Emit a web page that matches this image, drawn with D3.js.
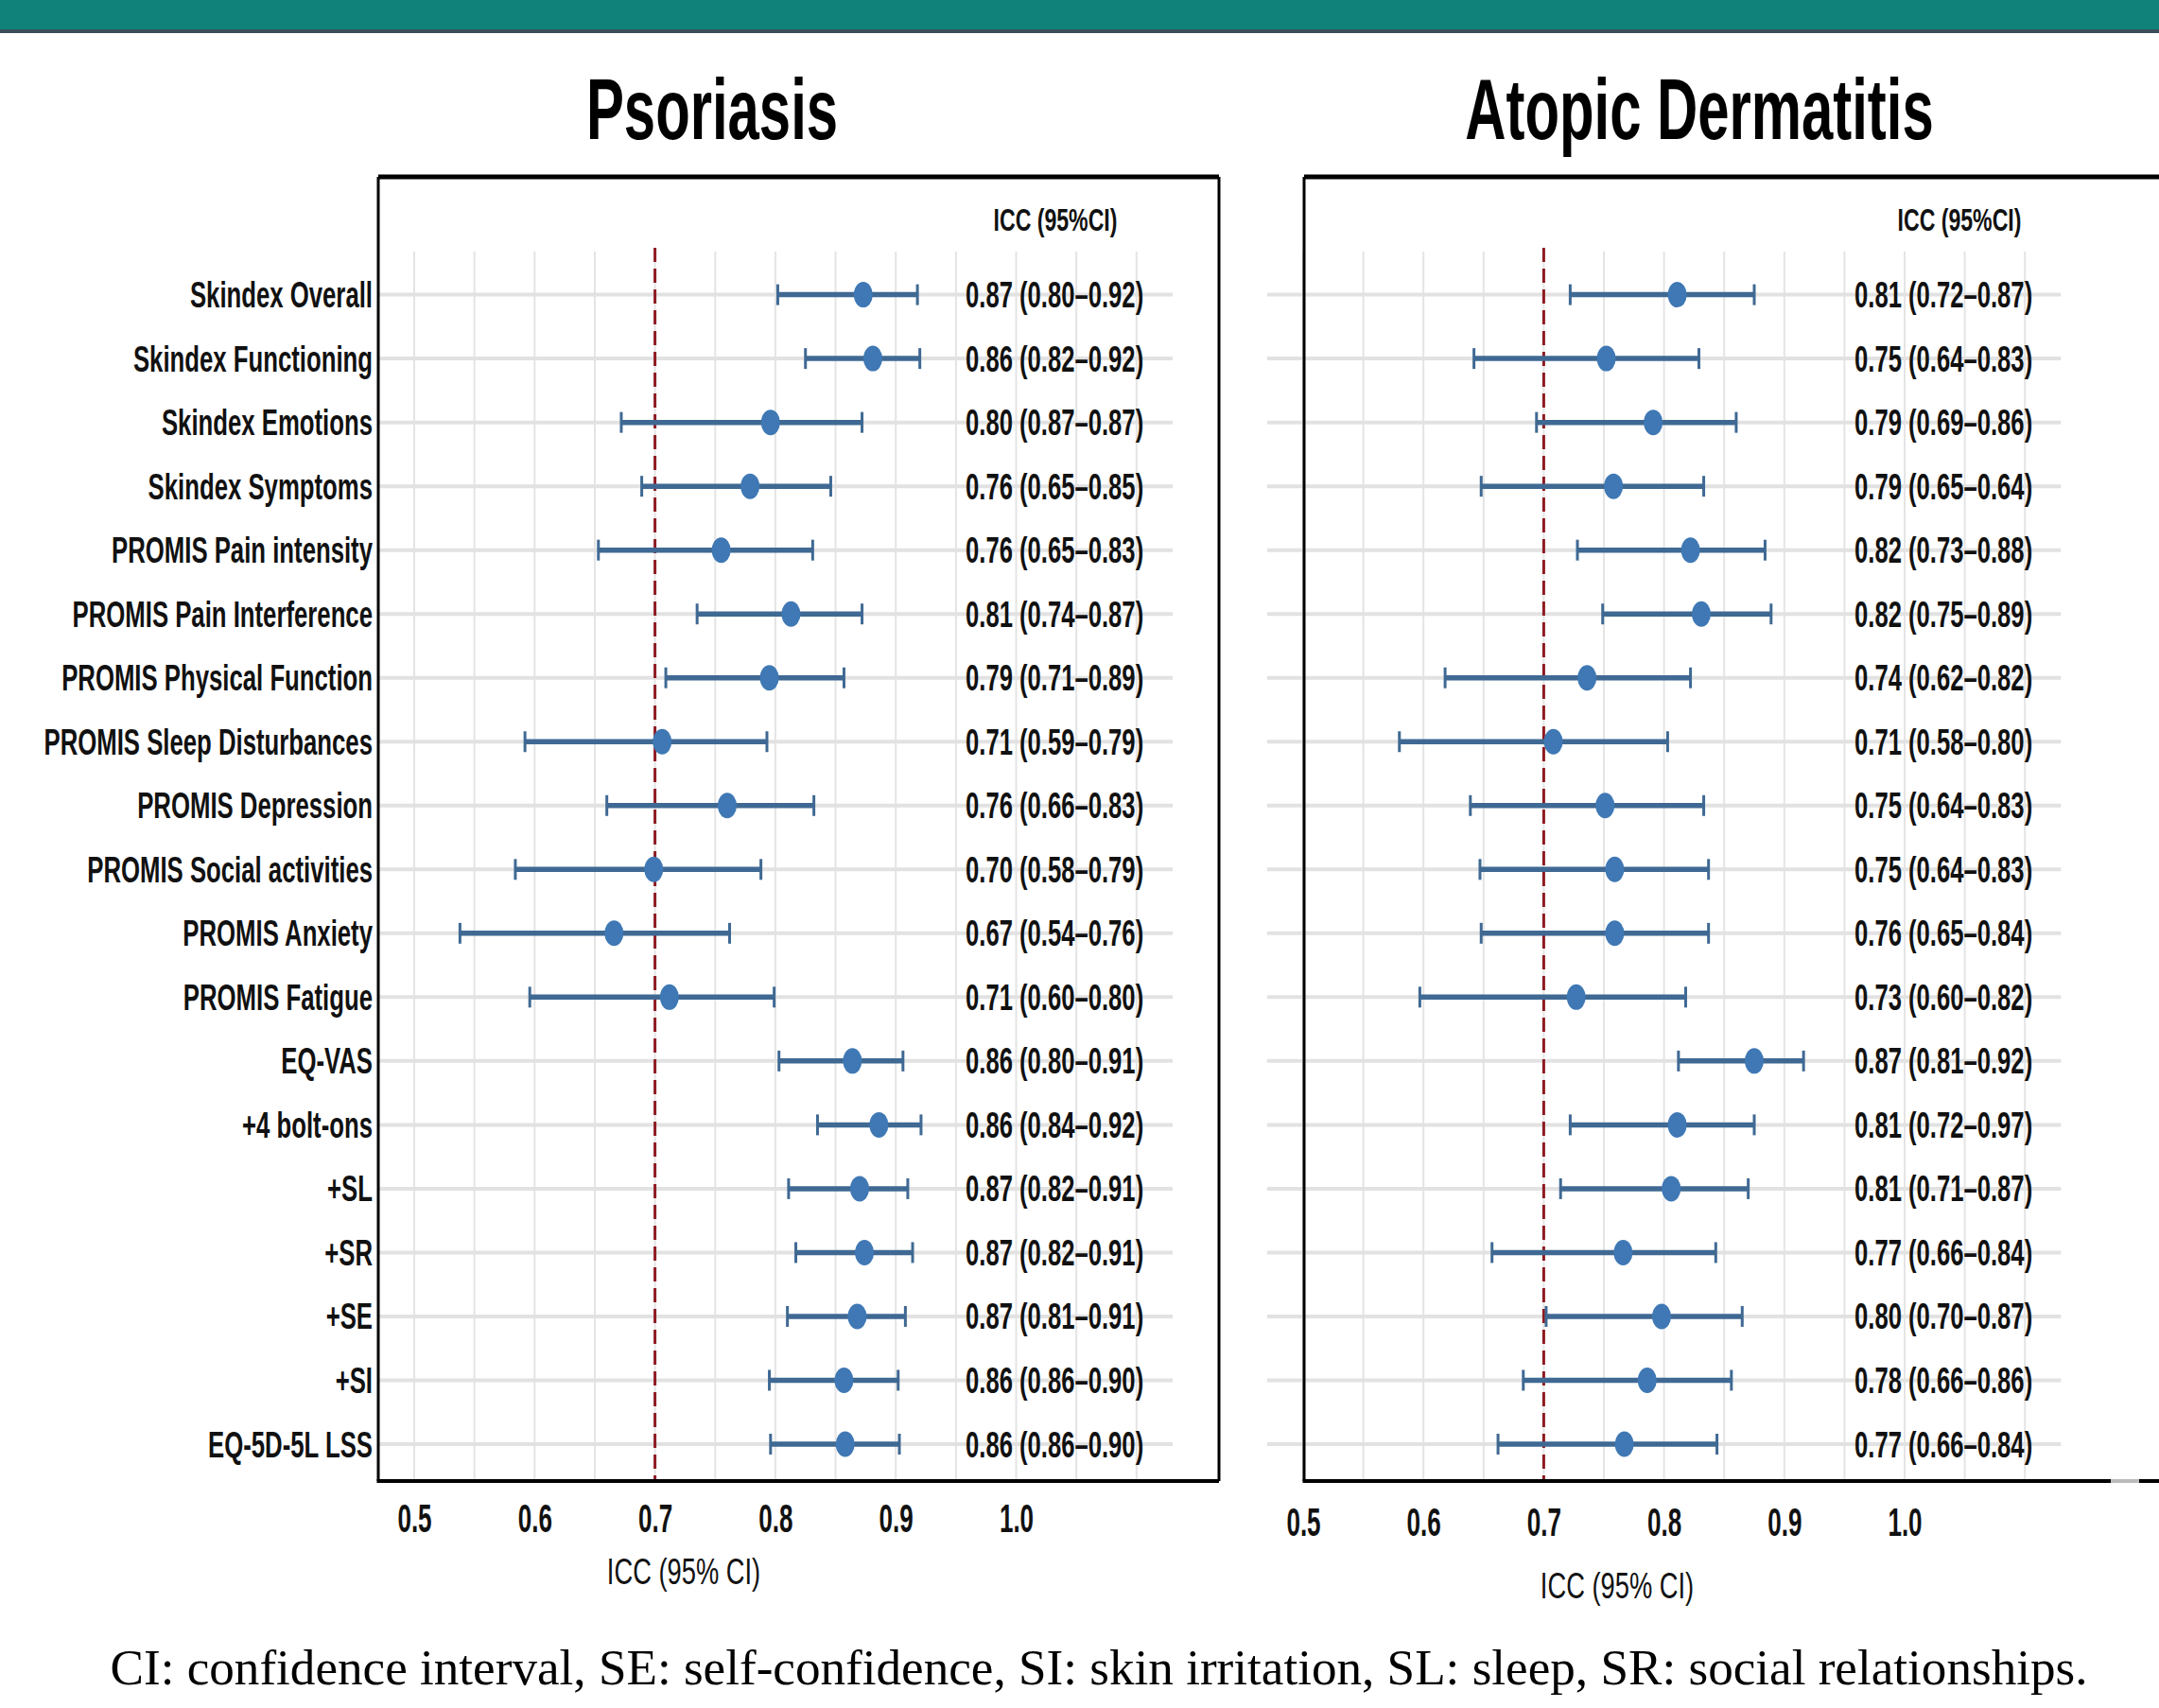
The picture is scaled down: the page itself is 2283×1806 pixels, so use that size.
<!DOCTYPE html>
<html>
<head>
<meta charset="utf-8">
<script src="https://cdn.jsdelivr.net/npm/d3@7"></script>
<style>
  html, body { margin: 0; padding: 0; background: #fff; }
  svg { display: block; }
</style>
</head>
<body>
<div id="chart"></div>
<script>
const labels = [
  "Skindex Overall", "Skindex Functioning", "Skindex Emotions", "Skindex Symptoms",
  "PROMIS Pain intensity", "PROMIS Pain Interference", "PROMIS Physical Function",
  "PROMIS Sleep Disturbances", "PROMIS Depression", "PROMIS Social activities",
  "PROMIS Anxiety", "PROMIS Fatigue", "EQ-VAS", "+4 bolt-ons", "+SL", "+SR", "+SE",
  "+SI", "EQ-5D-5L LSS",
];

const psoEst = [0.873, 0.881, 0.796, 0.779, 0.755, 0.813, 0.795, 0.706, 0.760, 0.699, 0.666, 0.712, 0.864, 0.886, 0.870, 0.874, 0.868, 0.857, 0.858];
const psoLow = [0.802, 0.825, 0.672, 0.689, 0.653, 0.735, 0.709, 0.592, 0.660, 0.584, 0.538, 0.596, 0.803, 0.835, 0.811, 0.817, 0.810, 0.795, 0.796];
const psoHigh = [0.918, 0.920, 0.872, 0.846, 0.831, 0.872, 0.857, 0.793, 0.832, 0.788, 0.762, 0.799, 0.906, 0.921, 0.910, 0.914, 0.908, 0.902, 0.903];
const psoText = [
  "0.87 (0.80–0.92)", "0.86 (0.82–0.92)", "0.80 (0.87–0.87)", "0.76 (0.65–0.85)",
  "0.76 (0.65–0.83)", "0.81 (0.74–0.87)", "0.79 (0.71–0.89)", "0.71 (0.59–0.79)",
  "0.76 (0.66–0.83)", "0.70 (0.58–0.79)", "0.67 (0.54–0.76)", "0.71 (0.60–0.80)",
  "0.86 (0.80–0.91)", "0.86 (0.84–0.92)", "0.87 (0.82–0.91)", "0.87 (0.82–0.91)",
  "0.87 (0.81–0.91)", "0.86 (0.86–0.90)", "0.86 (0.86–0.90)",
];

// Atopic dermatitis
const adEst = [0.811, 0.752, 0.791, 0.758, 0.822, 0.831, 0.736, 0.708, 0.751, 0.759, 0.759, 0.727, 0.875, 0.811, 0.806, 0.766, 0.798, 0.786, 0.767];
const adLow = [0.722, 0.642, 0.694, 0.648, 0.728, 0.749, 0.618, 0.580, 0.639, 0.647, 0.648, 0.597, 0.812, 0.722, 0.714, 0.657, 0.702, 0.683, 0.662];
const adHigh = [0.875, 0.829, 0.860, 0.833, 0.884, 0.889, 0.822, 0.803, 0.833, 0.837, 0.837, 0.818, 0.916, 0.875, 0.870, 0.843, 0.865, 0.856, 0.844];
const adText = [
  "0.81 (0.72–0.87)", "0.75 (0.64–0.83)", "0.79 (0.69–0.86)", "0.79 (0.65–0.64)",
  "0.82 (0.73–0.88)", "0.82 (0.75–0.89)", "0.74 (0.62–0.82)", "0.71 (0.58–0.80)",
  "0.75 (0.64–0.83)", "0.75 (0.64–0.83)", "0.76 (0.65–0.84)", "0.73 (0.60–0.82)",
  "0.87 (0.81–0.92)", "0.81 (0.72–0.97)", "0.81 (0.71–0.87)", "0.77 (0.66–0.84)",
  "0.80 (0.70–0.87)", "0.78 (0.66–0.86)", "0.77 (0.66–0.84)",
];

const xTicks = [0.5, 0.6, 0.7, 0.8, 0.9, 1.0];
const gridValues = d3.range(0.5, 1.1001, 0.05);
const threshold = 0.7;

const width = 2283, height = 1806;
const sans = "'Liberation Sans', Arial, sans-serif";

const svg = d3.select("#chart").append("svg")
  .attr("width", width).attr("height", height)
  .attr("viewBox", [0, 0, width, height]);

svg.append("rect").attr("width", width).attr("height", height).attr("fill", "#fff");

// top banner
svg.append("rect").attr("x", 0).attr("y", 0).attr("width", width).attr("height", 31).attr("fill", "#10827a");
svg.append("rect").attr("x", 0).attr("y", 31).attr("width", width).attr("height", 4).attr("fill", "#3c4d5a");

// condensed text helper
const ctext = (g, x, y, str, { size = 38, sx = 0.66, anchor = "start", weight = "bold", fill = "#111" } = {}) =>
  g.append("text")
    .attr("transform", `translate(${x},${y}) scale(${sx},1)`)
    .attr("text-anchor", anchor)
    .attr("font-family", sans)
    .attr("font-size", size)
    .attr("font-weight", weight)
    .attr("fill", fill)
    .text(str);

const y = d3.scalePoint(labels, [311.6, 1527]);

const panel = ({ title, titleX, est, low, high, text, range, box, headerX, textX, axisTitleX, axisTitleY, tickY, showLabels }) => {
  const x = d3.scaleLinear([0.5, 1.0], range);
  const g = svg.append("g");

  ctext(g, titleX, 147, title, { size: 90, sx: 0.665, anchor: "middle", fill: "#000" });

  // vertical grid
  g.append("g").selectAll("line").data(gridValues).join("line")
    .attr("x1", (d) => x(d)).attr("x2", (d) => x(d))
    .attr("y1", 266).attr("y2", box.bottom)
    .attr("stroke", "#e4e4e4").attr("stroke-width", 2);

  // row lines
  g.append("g").selectAll("line").data(labels).join("line")
    .attr("x1", x(0.47)).attr("x2", x(1.13))
    .attr("y1", (d) => y(d)).attr("y2", (d) => y(d))
    .attr("stroke", "#e2e2e2").attr("stroke-width", 4);

  // threshold
  g.append("line")
    .attr("x1", x(threshold)).attr("x2", x(threshold))
    .attr("y1", 262).attr("y2", box.bottom)
    .attr("stroke", "#8e1b22").attr("stroke-width", 3)
    .attr("stroke-dasharray", "15,7");

  const I = d3.range(labels.length);
  const bars = g.append("g").selectAll("g").data(I).join("g");
  bars.append("line")
    .attr("x1", (i) => x(low[i])).attr("x2", (i) => x(high[i]))
    .attr("y1", (i) => y(labels[i])).attr("y2", (i) => y(labels[i]))
    .attr("stroke", "#3f6993").attr("stroke-width", 5.5);
  bars.append("line")
    .attr("x1", (i) => x(low[i])).attr("x2", (i) => x(low[i]))
    .attr("y1", (i) => y(labels[i]) - 11).attr("y2", (i) => y(labels[i]) + 11)
    .attr("stroke", "#3f6993").attr("stroke-width", 3);
  bars.append("line")
    .attr("x1", (i) => x(high[i])).attr("x2", (i) => x(high[i]))
    .attr("y1", (i) => y(labels[i]) - 11).attr("y2", (i) => y(labels[i]) + 11)
    .attr("stroke", "#3f6993").attr("stroke-width", 3);
  bars.append("ellipse")
    .attr("cx", (i) => x(est[i])).attr("cy", (i) => y(labels[i]))
    .attr("rx", 10).attr("ry", 13.5)
    .attr("fill", "#3f78b4");

  // header and values
  ctext(g, headerX, 244, "ICC (95%CI)", { size: 33, sx: 0.7, anchor: "middle" });
  I.forEach((i) => ctext(g, textX, y(labels[i]) + 13.5, text[i], { size: 38, sx: 0.675 }));

  if (showLabels) {
    I.forEach((i) => ctext(g, 394, y(labels[i]) + 13.5, labels[i], { size: 39, sx: 0.66, anchor: "end" }));
  }

  // frame
  const frame = g.append("g").attr("stroke", "#000").attr("fill", "none");
  frame.append("line").attr("x1", box.left).attr("x2", box.right).attr("y1", box.top).attr("y2", box.top).attr("stroke-width", 5);
  frame.append("line").attr("x1", box.left).attr("x2", box.left).attr("y1", box.top).attr("y2", box.bottom).attr("stroke-width", 3);
  frame.append("line").attr("x1", box.left - 1.5).attr("x2", box.right).attr("y1", box.bottom).attr("y2", box.bottom).attr("stroke-width", 4);
  if (box.rightBorder) {
    frame.append("line").attr("x1", box.right).attr("x2", box.right).attr("y1", box.top).attr("y2", box.bottom).attr("stroke-width", 3);
  }

  // x axis
  const axis = g.append("g")
    .attr("transform", `translate(0,${tickY})`)
    .call(d3.axisBottom(x).tickValues(xTicks).tickFormat(d3.format(".1f")).tickSize(0).tickPadding(0));
  axis.select(".domain").remove();
  axis.selectAll("text")
    .attr("y", 0).attr("dy", "0.36em")
    .attr("transform", "scale(0.62,1)")
    .attr("font-family", sans).attr("font-size", 42).attr("font-weight", "bold")
    .attr("fill", "#111");

  ctext(g, axisTitleX, axisTitleY, "ICC (95% CI)", { size: 39, sx: 0.7, anchor: "middle", weight: "normal" });
};

panel({
  title: "Psoriasis", titleX: 753,
  est: psoEst, low: psoLow, high: psoHigh, text: psoText,
  range: [438, 1074.5],
  box: { left: 400, right: 1289, top: 187, bottom: 1566, rightBorder: true },
  headerX: 1116, textX: 1021, axisTitleX: 723, axisTitleY: 1675, tickY: 1605,
  showLabels: true,
});

panel({
  title: "Atopic Dermatitis", titleX: 1797,
  est: adEst, low: adLow, high: adHigh, text: adText,
  range: [1378, 2014],
  box: { left: 1379, right: 2283, top: 187, bottom: 1566, rightBorder: false },
  headerX: 2072, textX: 1961, axisTitleX: 1710, axisTitleY: 1690, tickY: 1609,
  showLabels: false,
});

// small gray gap in the right frame's bottom line
svg.append("line").attr("x1", 2232).attr("x2", 2262).attr("y1", 1566).attr("y2", 1566)
  .attr("stroke", "#bbb").attr("stroke-width", 4);

// caption
svg.append("text")
  .attr("x", 1162).attr("y", 1781)
  .attr("text-anchor", "middle")
  .attr("font-family", "'Liberation Serif', 'Times New Roman', serif")
  .attr("font-size", 53)
  .attr("textLength", 2091).attr("lengthAdjust", "spacingAndGlyphs")
  .attr("fill", "#000")
  .text("CI: confidence interval, SE: self-confidence, SI: skin irritation, SL: sleep, SR: social relationships.");
</script>
</body>
</html>
